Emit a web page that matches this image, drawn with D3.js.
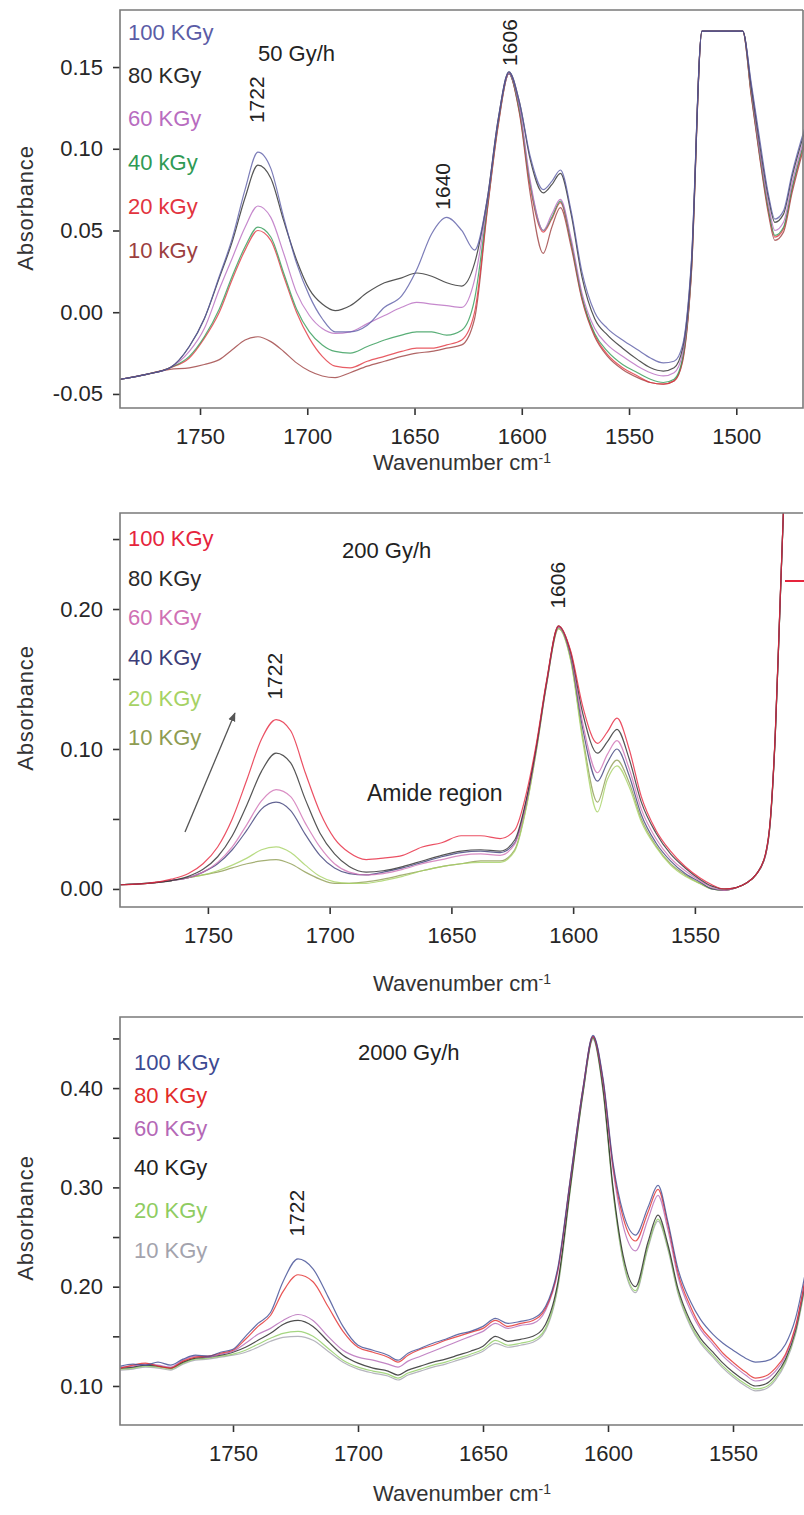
<!DOCTYPE html>
<html>
<head>
<meta charset="utf-8">
<script src="https://cdn.jsdelivr.net/npm/d3@7/dist/d3.min.js"></script>
<style>
  body { margin: 0; background: #fff; }
  svg { display: block; font-family: "Liberation Sans", Arial, sans-serif; }
  .tick text { font-size: 22px; fill: #262626; }
  .tick line { stroke: #333; stroke-width: 1.6; }
</style>
</head>
<body>
<svg id="chart" width="804" height="1515"></svg>
<script>
// ---------- panel 1 : 50 Gy/h ----------
var wn1 = [1787, 1775, 1764, 1755, 1748, 1741, 1735, 1729, 1723, 1717, 1711, 1705, 1699, 1693, 1687, 1680,
  1672, 1664, 1656, 1649, 1642, 1635, 1628, 1622, 1616, 1611, 1606, 1601, 1596, 1590, 1586, 1582, 1577,
  1572, 1566, 1560, 1553, 1546, 1540, 1534, 1529, 1525, 1521, 1516, 1497, 1493, 1489, 1485, 1482, 1478, 1474, 1468];
var p1_100 = [-0.041, -0.038, -0.034, -0.021, -0.004, 0.022, 0.045, 0.075, 0.098, 0.088, 0.058, 0.030, 0.010, -0.004, -0.012, -0.012,
  -0.008, 0.003, 0.010, 0.026, 0.048, 0.058, 0.050, 0.038, 0.070, 0.118, 0.147, 0.128, 0.095, 0.075, 0.080, 0.087, 0.062,
  0.025, 0.000, -0.010, -0.017, -0.023, -0.028, -0.031, -0.030, -0.020, 0.030, 0.172, 0.172, 0.140, 0.105, 0.072, 0.057, 0.062, 0.085, 0.113];
var p1_80 = [-0.041, -0.038, -0.034, -0.021, -0.004, 0.021, 0.043, 0.070, 0.090, 0.082, 0.056, 0.032, 0.014, 0.005, 0.001, 0.004,
  0.012, 0.018, 0.021, 0.024, 0.022, 0.018, 0.016, 0.030, 0.070, 0.118, 0.147, 0.128, 0.093, 0.073, 0.078, 0.085, 0.060,
  0.022, -0.004, -0.014, -0.022, -0.029, -0.034, -0.036, -0.034, -0.022, 0.028, 0.172, 0.172, 0.138, 0.102, 0.070, 0.055, 0.060, 0.083, 0.111];
var p1_60 = [-0.041, -0.038, -0.034, -0.024, -0.010, 0.014, 0.033, 0.052, 0.065, 0.058, 0.036, 0.012, -0.002, -0.010, -0.013, -0.012,
  -0.007, -0.002, 0.003, 0.006, 0.005, 0.004, 0.003, 0.020, 0.068, 0.117, 0.146, 0.125, 0.080, 0.050, 0.060, 0.069, 0.045,
  0.012, -0.010, -0.020, -0.027, -0.033, -0.037, -0.039, -0.037, -0.025, 0.026, 0.172, 0.172, 0.136, 0.098, 0.066, 0.050, 0.055, 0.079, 0.108];
var p1_40 = [-0.041, -0.038, -0.034, -0.027, -0.015, 0.002, 0.022, 0.040, 0.052, 0.046, 0.024, 0.002, -0.012, -0.020, -0.024, -0.025,
  -0.021, -0.017, -0.014, -0.012, -0.012, -0.014, -0.011, 0.008, 0.066, 0.116, 0.146, 0.123, 0.078, 0.050, 0.058, 0.068, 0.043,
  0.010, -0.013, -0.024, -0.032, -0.037, -0.041, -0.043, -0.041, -0.028, 0.024, 0.172, 0.172, 0.134, 0.096, 0.063, 0.047, 0.052, 0.076, 0.106];
var p1_20 = [-0.041, -0.038, -0.034, -0.028, -0.016, 0.000, 0.020, 0.038, 0.050, 0.044, 0.022, 0.000, -0.016, -0.027, -0.033, -0.034,
  -0.030, -0.027, -0.024, -0.022, -0.022, -0.020, -0.017, 0.000, 0.064, 0.115, 0.146, 0.122, 0.076, 0.049, 0.057, 0.067, 0.042,
  0.009, -0.014, -0.026, -0.034, -0.039, -0.043, -0.044, -0.042, -0.029, 0.023, 0.172, 0.172, 0.133, 0.095, 0.062, 0.046, 0.051, 0.075, 0.105];
var p1_10 = [-0.041, -0.038, -0.035, -0.034, -0.032, -0.029, -0.023, -0.017, -0.015, -0.018, -0.024, -0.031, -0.036, -0.039, -0.040, -0.037,
  -0.033, -0.030, -0.027, -0.025, -0.024, -0.022, -0.020, -0.004, 0.063, 0.114, 0.146, 0.121, 0.072, 0.036, 0.052, 0.064, 0.040,
  0.008, -0.015, -0.027, -0.035, -0.040, -0.043, -0.044, -0.042, -0.030, 0.022, 0.172, 0.172, 0.132, 0.094, 0.060, 0.044, 0.049, 0.073, 0.103];
var labels1 = ["100 KGy", "80 KGy", "60 KGy", "40 kGy", "20 kGy", "10 kGy"];
var colors1 = ["#5b5ca6", "#2a2a2a", "#b86cc0", "#2f9a55", "#e2343e", "#9c3f3f"];
var yTicks1 = [-0.05, 0.00, 0.05, 0.10, 0.15];
var xTicks1 = [1750, 1700, 1650, 1600, 1550, 1500];

// ---------- panel 2 : 200 Gy/h ----------
var wn2 = [1786, 1775, 1765, 1758, 1752, 1746, 1740, 1734, 1728, 1722, 1716, 1710, 1704, 1698, 1692, 1685,
  1678, 1670, 1662, 1654, 1646, 1638, 1630, 1624, 1619, 1615, 1611, 1606, 1601, 1596, 1590, 1586, 1582,
  1577, 1572, 1566, 1560, 1554, 1548, 1543, 1538, 1533, 1529, 1525, 1521, 1519, 1517, 1515, 1513];
var p2_100 = [0.003, 0.004, 0.007, 0.011, 0.018, 0.030, 0.050, 0.078, 0.107, 0.121, 0.113, 0.083, 0.055, 0.036, 0.026, 0.021,
  0.022, 0.024, 0.030, 0.033, 0.038, 0.038, 0.036, 0.042, 0.070, 0.105, 0.148, 0.188, 0.170, 0.130, 0.104, 0.112, 0.122,
  0.100, 0.066, 0.042, 0.027, 0.016, 0.008, 0.003, 0.000, 0.001, 0.004, 0.010, 0.025, 0.050, 0.111, 0.206, 0.300];
var p2_80 = [0.003, 0.004, 0.006, 0.009, 0.014, 0.023, 0.038, 0.060, 0.084, 0.097, 0.090, 0.064, 0.040, 0.025, 0.016, 0.012,
  0.013, 0.016, 0.020, 0.024, 0.027, 0.028, 0.027, 0.035, 0.066, 0.103, 0.147, 0.188, 0.169, 0.125, 0.097, 0.105, 0.114,
  0.093, 0.062, 0.040, 0.025, 0.015, 0.007, 0.002, 0.000, 0.001, 0.004, 0.010, 0.025, 0.050, 0.110, 0.205, 0.300];
var p2_60 = [0.003, 0.004, 0.006, 0.008, 0.012, 0.019, 0.030, 0.046, 0.063, 0.071, 0.066, 0.047, 0.030, 0.018, 0.012, 0.010,
  0.011, 0.014, 0.018, 0.021, 0.024, 0.025, 0.024, 0.032, 0.064, 0.102, 0.146, 0.187, 0.167, 0.118, 0.083, 0.096, 0.106,
  0.086, 0.057, 0.036, 0.022, 0.013, 0.006, 0.001, -0.001, 0.001, 0.004, 0.010, 0.024, 0.049, 0.110, 0.205, 0.300];
var p2_40 = [0.003, 0.004, 0.006, 0.008, 0.012, 0.018, 0.028, 0.042, 0.057, 0.062, 0.056, 0.039, 0.024, 0.015, 0.011, 0.010,
  0.012, 0.015, 0.019, 0.023, 0.026, 0.027, 0.026, 0.033, 0.064, 0.102, 0.146, 0.187, 0.166, 0.114, 0.077, 0.090, 0.100,
  0.081, 0.053, 0.033, 0.020, 0.011, 0.005, 0.000, -0.001, 0.001, 0.004, 0.010, 0.024, 0.049, 0.109, 0.204, 0.300];
var p2_20 = [0.003, 0.004, 0.006, 0.008, 0.010, 0.013, 0.017, 0.022, 0.028, 0.030, 0.026, 0.017, 0.009, 0.005, 0.004, 0.004,
  0.006, 0.009, 0.013, 0.016, 0.018, 0.019, 0.019, 0.027, 0.060, 0.100, 0.145, 0.186, 0.163, 0.105, 0.055, 0.078, 0.088,
  0.073, 0.048, 0.030, 0.017, 0.009, 0.004, 0.000, -0.001, 0.001, 0.004, 0.010, 0.024, 0.048, 0.109, 0.204, 0.300];
var p2_10 = [0.003, 0.004, 0.006, 0.008, 0.010, 0.012, 0.015, 0.018, 0.020, 0.021, 0.018, 0.012, 0.007, 0.004, 0.004, 0.005,
  0.007, 0.010, 0.013, 0.016, 0.018, 0.020, 0.020, 0.028, 0.061, 0.100, 0.145, 0.186, 0.164, 0.108, 0.062, 0.082, 0.092,
  0.076, 0.050, 0.031, 0.018, 0.010, 0.004, 0.000, -0.001, 0.001, 0.004, 0.010, 0.024, 0.048, 0.109, 0.204, 0.300];
var p2_cutWn = [1513, 1505];
var p2_cutVal = [0.22, 0.22];
var labels2 = ["100 KGy", "80 KGy", "60 KGy", "40 KGy", "20 KGy", "10 KGy"];
var colors2 = ["#e6243c", "#2a2a2a", "#cf70b4", "#3c3d78", "#a6d264", "#8e9c52"];
var yTicks2 = [0.00, 0.10, 0.20];
var yMinor2 = [0.05, 0.15, 0.25];
var xTicks2 = [1750, 1700, 1650, 1600, 1550];

// ---------- panel 3 : 2000 Gy/h ----------
var wn3 = [1795, 1790, 1785, 1780, 1775, 1770, 1765, 1760, 1755, 1750, 1745, 1740, 1735, 1730, 1724, 1718,
  1712, 1706, 1700, 1694, 1688, 1684, 1680, 1675, 1670, 1665, 1660, 1655, 1650, 1645, 1640, 1635, 1630,
  1625, 1620, 1615, 1610, 1606, 1602, 1598, 1594, 1589, 1584, 1580, 1576, 1572, 1567, 1563, 1558, 1554,
  1550, 1545, 1541, 1537, 1533, 1529, 1525, 1521];
var p3_100 = [0.120, 0.122, 0.121, 0.124, 0.121, 0.127, 0.131, 0.130, 0.134, 0.137, 0.150, 0.163, 0.174, 0.205, 0.228, 0.218,
  0.190, 0.160, 0.141, 0.136, 0.131, 0.126, 0.133, 0.138, 0.143, 0.147, 0.152, 0.155, 0.160, 0.168, 0.163, 0.165, 0.168,
  0.180, 0.220, 0.310, 0.400, 0.453, 0.410, 0.325, 0.275, 0.252, 0.280, 0.302, 0.265, 0.218, 0.185, 0.167, 0.152, 0.143,
  0.136, 0.128, 0.124, 0.125, 0.130, 0.142, 0.168, 0.215];
var p3_80 = [0.118, 0.121, 0.123, 0.120, 0.118, 0.125, 0.129, 0.130, 0.133, 0.136, 0.147, 0.160, 0.171, 0.195, 0.212, 0.205,
  0.180, 0.155, 0.139, 0.134, 0.129, 0.124, 0.131, 0.137, 0.141, 0.146, 0.150, 0.154, 0.158, 0.166, 0.160, 0.163, 0.166,
  0.178, 0.218, 0.309, 0.400, 0.452, 0.408, 0.322, 0.270, 0.246, 0.275, 0.298, 0.262, 0.214, 0.180, 0.160, 0.145, 0.133,
  0.124, 0.114, 0.108, 0.110, 0.118, 0.132, 0.160, 0.210];
var p3_60 = [0.119, 0.120, 0.122, 0.121, 0.119, 0.126, 0.130, 0.129, 0.132, 0.135, 0.143, 0.152, 0.158, 0.166, 0.172, 0.166,
  0.150, 0.136, 0.129, 0.126, 0.122, 0.119, 0.125, 0.130, 0.135, 0.140, 0.145, 0.150, 0.155, 0.163, 0.158, 0.161, 0.163,
  0.176, 0.216, 0.308, 0.399, 0.452, 0.406, 0.318, 0.262, 0.236, 0.268, 0.292, 0.257, 0.210, 0.176, 0.157, 0.142, 0.130,
  0.121, 0.111, 0.105, 0.107, 0.115, 0.130, 0.158, 0.208];
var p3_40 = [0.118, 0.119, 0.121, 0.120, 0.118, 0.124, 0.128, 0.129, 0.131, 0.134, 0.139, 0.146, 0.153, 0.162, 0.166, 0.160,
  0.145, 0.131, 0.123, 0.118, 0.115, 0.111, 0.116, 0.120, 0.124, 0.127, 0.131, 0.135, 0.140, 0.150, 0.145, 0.147, 0.150,
  0.162, 0.205, 0.302, 0.396, 0.451, 0.400, 0.300, 0.232, 0.200, 0.245, 0.272, 0.242, 0.198, 0.165, 0.148, 0.134, 0.123,
  0.114, 0.105, 0.100, 0.102, 0.111, 0.127, 0.156, 0.206];
var p3_20 = [0.117, 0.118, 0.120, 0.119, 0.117, 0.123, 0.127, 0.128, 0.130, 0.132, 0.136, 0.142, 0.148, 0.153, 0.155, 0.150,
  0.138, 0.126, 0.119, 0.115, 0.112, 0.108, 0.113, 0.117, 0.121, 0.124, 0.128, 0.132, 0.137, 0.146, 0.141, 0.143, 0.146,
  0.158, 0.202, 0.300, 0.395, 0.450, 0.398, 0.297, 0.228, 0.196, 0.241, 0.268, 0.239, 0.195, 0.162, 0.145, 0.131, 0.120,
  0.111, 0.102, 0.097, 0.099, 0.108, 0.125, 0.154, 0.204];
var p3_10 = [0.116, 0.117, 0.119, 0.118, 0.116, 0.122, 0.126, 0.127, 0.129, 0.131, 0.134, 0.139, 0.145, 0.149, 0.150, 0.146,
  0.135, 0.124, 0.117, 0.113, 0.110, 0.106, 0.111, 0.115, 0.119, 0.122, 0.126, 0.130, 0.135, 0.143, 0.139, 0.141, 0.144,
  0.156, 0.200, 0.299, 0.394, 0.449, 0.397, 0.296, 0.226, 0.194, 0.239, 0.266, 0.237, 0.193, 0.160, 0.143, 0.129, 0.118,
  0.109, 0.100, 0.095, 0.097, 0.106, 0.123, 0.152, 0.202];
var labels3 = ["100 KGy", "80 KGy", "60 KGy", "40 KGy", "20 KGy", "10 KGy"];
var colors3 = ["#3d4a92", "#e22b2b", "#b468b6", "#222222", "#8fcc62", "#a3a3ad"];
var yTicks3 = [0.10, 0.20, 0.30, 0.40];
var yMinor3 = [0.15, 0.25, 0.35, 0.45];
var xTicks3 = [1750, 1700, 1650, 1600, 1550];

var svg = d3.select("#chart");
var fmt = function (d) { return d3.format(".2f")(d).replace("\u2212", "-"); };

function drawPanel(o) {
  var x = d3.scaleLinear().domain(o.xDom).range([120, 803]);
  var y = d3.scaleLinear().domain(o.yDom).range([o.bottom, o.top]);
  var g = svg.append("g");

  var clipId = "clip" + o.id;
  svg.append("clipPath").attr("id", clipId).append("rect")
    .attr("x", 120).attr("y", o.top).attr("width", 684).attr("height", o.bottom - o.top);

  // axes
  var ya = d3.axisLeft(y).tickValues(o.yTicks).tickFormat(fmt).tickSize(7).tickPadding(10);
  g.append("g").attr("transform", "translate(120,0)").call(ya).call(function (s) { s.select(".domain").remove(); });
  if (o.yMinor) {
    var ym = d3.axisLeft(y).tickValues(o.yMinor).tickFormat("").tickSize(7);
    g.append("g").attr("transform", "translate(120,0)").call(ym).call(function (s) { s.select(".domain").remove(); });
  }
  var xa = d3.axisBottom(x).tickValues(o.xTicks).tickFormat(d3.format("d")).tickSize(7).tickPadding(13);
  g.append("g").attr("transform", "translate(0," + o.bottom + ")").call(xa).call(function (s) { s.select(".domain").remove(); });

  // lines
  var line = d3.line().x(function (d) { return x(d[0]); }).y(function (d) { return y(d[1]); }).curve(d3.curveMonotoneX);
  var lg = g.append("g").attr("clip-path", "url(#" + clipId + ")");
  o.series.slice().reverse().forEach(function (vals, k) {
    var i = o.series.length - 1 - k;
    lg.append("path").datum(o.wn.map(function (w, j) { return [w, vals[j]]; }))
      .attr("d", line).attr("fill", "none").attr("stroke", o.colors[i])
      .attr("stroke-width", 1.2).attr("stroke-opacity", 0.8);
  });
  if (o.extra) {
    lg.append("path").datum(o.extra.wn.map(function (w, j) { return [w, o.extra.v[j]]; }))
      .attr("d", d3.line().x(function (d) { return x(d[0]); }).y(function (d) { return y(d[1]); }))
      .attr("fill", "none").attr("stroke", o.extra.color).attr("stroke-width", 2);
  }

  // frame
  g.append("path").attr("fill", "none").attr("stroke", "#7a7a7a").attr("stroke-width", 1.6)
    .attr("d", o.rightEdge
      ? "M803," + o.top + "H120V" + o.bottom + "H803V" + o.top
      : "M803," + o.top + "H120V" + o.bottom + "H803");

  // legend
  o.labels.forEach(function (t, i) {
    g.append("text").attr("x", o.legX).attr("y", o.legY[i]).attr("dy", "0.35em")
      .attr("font-size", 22).attr("fill", o.colors[i]).text(t);
  });
  g.append("text").attr("x", o.rate[0]).attr("y", o.rate[1]).attr("dy", "0.35em")
    .attr("font-size", 22).attr("fill", "#222").text(o.rate[2]);

  // peak labels
  o.peaks.forEach(function (p) {
    g.append("text").attr("transform", "translate(" + x(p[0]) + "," + y(p[1]) + ") rotate(-90)")
      .attr("text-anchor", "middle").attr("dy", "0.35em").attr("font-size", 21).attr("fill", "#222").text(p[2]);
  });

  // axis titles
  g.append("text").attr("transform", "translate(25," + o.yTitle + ") rotate(-90)")
    .attr("text-anchor", "middle").attr("dy", "0.35em").attr("font-size", 22).attr("letter-spacing", 0.8)
    .attr("fill", "#333").text("Absorbance");
  var xt = g.append("text").attr("x", 462).attr("y", o.bottom + o.xTitleOff).attr("text-anchor", "middle")
    .attr("font-size", 22).attr("fill", "#333");
  xt.append("tspan").text("Wavenumber cm");
  xt.append("tspan").attr("dy", "-0.5em").attr("font-size", 14).text("-1");

  return { x: x, y: y, g: g };
}

drawPanel({
  id: 1, wn: wn1, series: [p1_100, p1_80, p1_60, p1_40, p1_20, p1_10], colors: colors1, labels: labels1,
  xDom: [1787.3, 1468.9], yDom: [-0.0586, 0.1849], top: 10, bottom: 408, rightEdge: true,
  yTicks: yTicks1, xTicks: xTicks1, legX: 128, legY: [32, 75, 118, 162, 206, 250], yTitle: 208,
  rate: [258, 53, "50 Gy/h"], peaks: [[1723.4, 0.130, "1722"], [1636.7, 0.077, "1640"], [1605.5, 0.165, "1606"]],
  xTitleOff: 62
});

var p2 = drawPanel({
  id: 2, wn: wn2, series: [p2_100, p2_80, p2_60, p2_40, p2_20, p2_10], colors: colors2, labels: labels2,
  xDom: [1786.1, 1505.6], yDom: [-0.0129, 0.2686], top: 513, bottom: 907, rightEdge: false,
  yTicks: yTicks2, yMinor: yMinor2, xTicks: xTicks2, legX: 128, legY: [538, 578, 617, 657, 698, 737], yTitle: 708,
  rate: [342, 550, "200 Gy/h"], peaks: [[1722.5, 0.152, "1722"], [1606.3, 0.217, "1606"]],
  extra: { wn: p2_cutWn, v: p2_cutVal, color: "#e6243c" },
  xTitleOff: 84
});
// arrow and "Amide region" note
svg.append("defs").append("marker").attr("id", "ah").attr("viewBox", "0 0 10 10")
  .attr("refX", 9).attr("refY", 5).attr("markerWidth", 7).attr("markerHeight", 7).attr("orient", "auto")
  .append("path").attr("d", "M0,1L10,5L0,9z").attr("fill", "#555");
p2.g.append("line").attr("x1", p2.x(1759.4)).attr("y1", p2.y(0.0407)).attr("x2", p2.x(1738.9)).attr("y2", p2.y(0.1257))
  .attr("stroke", "#555").attr("stroke-width", 1.3).attr("marker-end", "url(#ah)");
p2.g.append("text").attr("x", 367).attr("y", 793).attr("dy", "0.35em").attr("font-size", 23).attr("fill", "#222").text("Amide region");

drawPanel({
  id: 3, wn: wn3, series: [p3_100, p3_80, p3_60, p3_40, p3_20, p3_10], colors: colors3, labels: labels3,
  xDom: [1795.2, 1522], yDom: [0.0607, 0.4716], top: 1017, bottom: 1425, rightEdge: false,
  yTicks: yTicks3, yMinor: yMinor3, xTicks: xTicks3, legX: 134, legY: [1062, 1095, 1128, 1167, 1210, 1250], yTitle: 1218,
  rate: [358, 1052, "2000 Gy/h"], peaks: [[1724.4, 0.274, "1722"]],
  xTitleOff: 76
});
</script>
</body>
</html>
